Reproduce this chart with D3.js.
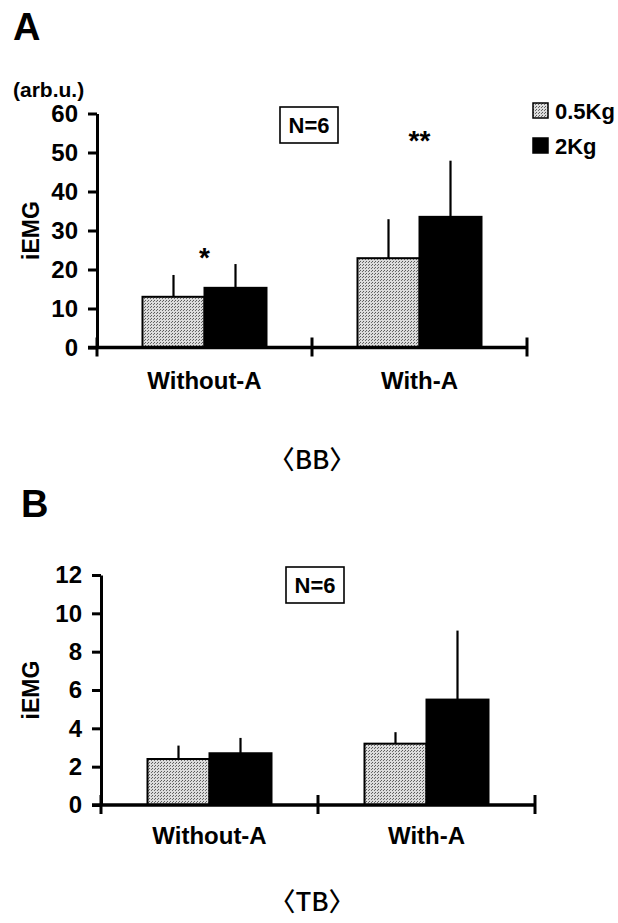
<!DOCTYPE html>
<html>
<head>
<meta charset="utf-8">
<script src="https://cdn.jsdelivr.net/npm/d3@7"></script>
<style>
  body { margin: 0; background: #fff; }
  svg { display: block; }
  text { font-family: "Liberation Sans", Arial, sans-serif; font-weight: bold; fill: #000; }
</style>
</head>
<body>
<svg id="chart" width="618" height="923"></svg>
<script>
// Data
const categories = ["Without-A", "With-A"];
const series = ["0.5Kg", "2Kg"];

// <BB> panel (arb.u.)
const bbMean05 = [13.0, 22.9];
const bbMean2 = [15.3, 33.5];
const bbSd05 = [5.6, 10.0];
const bbSd2 = [6.1, 14.4];
const bbTicks = [0, 10, 20, 30, 40, 50, 60];
const bbStars = ["*", "**"];
const bbStarLevel = [25, 55];

// <TB> panel
const tbMean05 = [2.4, 3.2];
const tbMean2 = [2.7, 5.5];
const tbSd05 = [0.7, 0.6];
const tbSd2 = [0.8, 3.6];
const tbTicks = [0, 2, 4, 6, 8, 10, 12];

const svg = d3.select("#chart");

// stippled grey fill like the scanned print
const defs = svg.append("defs");
const pat = defs.append("pattern")
    .attr("id", "stipple")
    .attr("width", 3).attr("height", 3)
    .attr("patternUnits", "userSpaceOnUse");
pat.append("rect").attr("width", 3).attr("height", 3).attr("fill", "#dcdcdc");
pat.append("rect").attr("x", 0).attr("y", 0).attr("width", 1).attr("height", 1).attr("fill", "#5a5a5a");
pat.append("rect").attr("x", 2).attr("y", 1).attr("width", 1).attr("height", 1).attr("fill", "#6a6a6a");

const fills = {"0.5Kg": "url(#stipple)", "2Kg": "#000"};

const panels = [
    {
        letter: "A", letterX: 13, letterY: 40,
        left: 97, top: 113.5, bottom: 347.5, width: 430,
        ticks: bbTicks, mean: [bbMean05, bbMean2], sd: [bbSd05, bbSd2],
        stars: bbStars, starLevel: bbStarLevel,
        unit: "(arb.u.)", legend: true,
        nBox: {x: 280, y: 107},
        labelPad: 24, title: "〈BB〉", titleY: 460
    },
    {
        letter: "B", letterX: 21, letterY: 517,
        left: 101, top: 575, bottom: 805, width: 434,
        ticks: tbTicks, mean: [tbMean05, tbMean2], sd: [tbSd05, tbSd2],
        stars: null, unit: null, legend: false,
        nBox: {x: 286, y: 567},
        labelPad: 22, title: "〈TB〉", titleY: 902
    }
];

panels.forEach(p => {
    const g = svg.append("g");

    const y = d3.scaleLinear()
        .domain([0, d3.max(p.ticks)])
        .range([p.bottom, p.top]);

    const x0 = d3.scaleBand()
        .domain(categories)
        .range([p.left, p.left + p.width]);

    const bw = x0.bandwidth();
    const x1 = d3.scaleBand()
        .domain(series)
        .range([bw / 2 - 62, bw / 2 + 62]);

    // panel letter
    g.append("text")
        .attr("x", p.letterX).attr("y", p.letterY)
        .style("font-size", "38px")
        .text(p.letter);

    // y axis
    const yAxis = g.append("g")
        .attr("transform", `translate(${p.left},0)`)
        .call(d3.axisLeft(y).tickValues(p.ticks).tickSize(9).tickSizeOuter(0).tickPadding(10));
    yAxis.selectAll("path, line").attr("stroke", "#000").attr("stroke-width", 3);
    yAxis.selectAll("text")
        .style("font-size", "24px")
        .style("font-family", "'Liberation Sans', Arial, sans-serif")
        .style("font-weight", "bold");

    g.append("text")
        .attr("transform", `translate(39,${(p.top + p.bottom) / 2}) rotate(-90)`)
        .attr("text-anchor", "middle")
        .style("font-size", "23px")
        .text("iEMG");

    if (p.unit) {
        g.append("text")
            .attr("x", 13).attr("y", 97)
            .style("font-size", "21px")
            .text(p.unit);
    }

    // bars
    const rows = categories.map((c, i) => ({
        cat: c,
        vals: series.map((s, j) => ({s, v: p.mean[j][i], e: p.sd[j][i]}))
    }));

    const grp = g.selectAll(".grp")
        .data(rows)
        .enter().append("g")
        .attr("transform", d => `translate(${x0(d.cat)},0)`);

    grp.selectAll("rect")
        .data(d => d.vals)
        .enter().append("rect")
        .attr("x", d => x1(d.s))
        .attr("y", d => y(d.v))
        .attr("width", x1.bandwidth())
        .attr("height", d => y(0) - y(d.v))
        .attr("fill", d => fills[d.s])
        .attr("stroke", "#000")
        .attr("stroke-width", 2);

    grp.selectAll("line.err")
        .data(d => d.vals)
        .enter().append("line")
        .attr("class", "err")
        .attr("x1", d => x1(d.s) + x1.bandwidth() / 2)
        .attr("x2", d => x1(d.s) + x1.bandwidth() / 2)
        .attr("y1", d => y(d.v))
        .attr("y2", d => y(d.v + d.e))
        .attr("stroke", "#000")
        .attr("stroke-width", 2.2);

    // x axis: baseline with ticks at the group boundaries
    g.append("line")
        .attr("x1", p.left - 9).attr("x2", p.left + p.width)
        .attr("y1", y(0)).attr("y2", y(0))
        .attr("stroke", "#000").attr("stroke-width", 3.5);

    const edges = categories.map(c => x0(c)).concat([p.left + p.width]);
    g.selectAll(".edge")
        .data(edges)
        .enter().append("line")
        .attr("x1", d => d).attr("x2", d => d)
        .attr("y1", y(0) - 10).attr("y2", y(0) + 9)
        .attr("stroke", "#000").attr("stroke-width", 3);

    const xAxis = g.append("g")
        .attr("transform", `translate(0,${y(0)})`)
        .call(d3.axisBottom(x0).tickSize(0).tickPadding(p.labelPad));
    xAxis.select(".domain").remove();
    xAxis.selectAll("text")
        .style("font-size", "24px")
        .style("font-family", "'Liberation Sans', Arial, sans-serif")
        .style("font-weight", "bold");

    // significance marks
    if (p.stars) {
        g.selectAll(".star")
            .data(categories)
            .enter().append("text")
            .attr("x", c => x0(c) + bw / 2)
            .attr("y", (c, i) => y(p.starLevel[i]))
            .attr("dy", "0.62em")
            .attr("text-anchor", "middle")
            .style("font-size", "28px")
            .text((c, i) => p.stars[i]);
    }

    // N=6 box
    g.append("rect")
        .attr("x", p.nBox.x).attr("y", p.nBox.y)
        .attr("width", 58).attr("height", 36)
        .attr("fill", "none").attr("stroke", "#000").attr("stroke-width", 1.6);
    g.append("text")
        .attr("x", p.nBox.x + 29).attr("y", p.nBox.y + 18)
        .attr("dy", "0.36em")
        .attr("text-anchor", "middle")
        .style("font-size", "22px")
        .text("N=6");

    // legend
    if (p.legend) {
        const lg = g.selectAll(".lg")
            .data(series)
            .enter().append("g")
            .attr("transform", (d, i) => `translate(533,${103 + i * 35})`);
        lg.append("rect")
            .attr("width", 15).attr("height", 15)
            .attr("fill", d => fills[d])
            .attr("stroke", "#000").attr("stroke-width", 1.5);
        lg.append("text")
            .attr("x", 22).attr("y", 8)
            .attr("dy", "0.36em")
            .style("font-size", "22px")
            .text(d => d);
    }

    // muscle title
    g.append("text")
        .attr("x", 312).attr("y", p.titleY)
        .attr("dy", "0.36em")
        .attr("text-anchor", "middle")
        .style("font-family", "'Noto Sans CJK JP', 'Noto Sans', sans-serif")
        .style("font-weight", "500")
        .style("font-size", "26px")
        .text(p.title);
});
</script>
</body>
</html>
